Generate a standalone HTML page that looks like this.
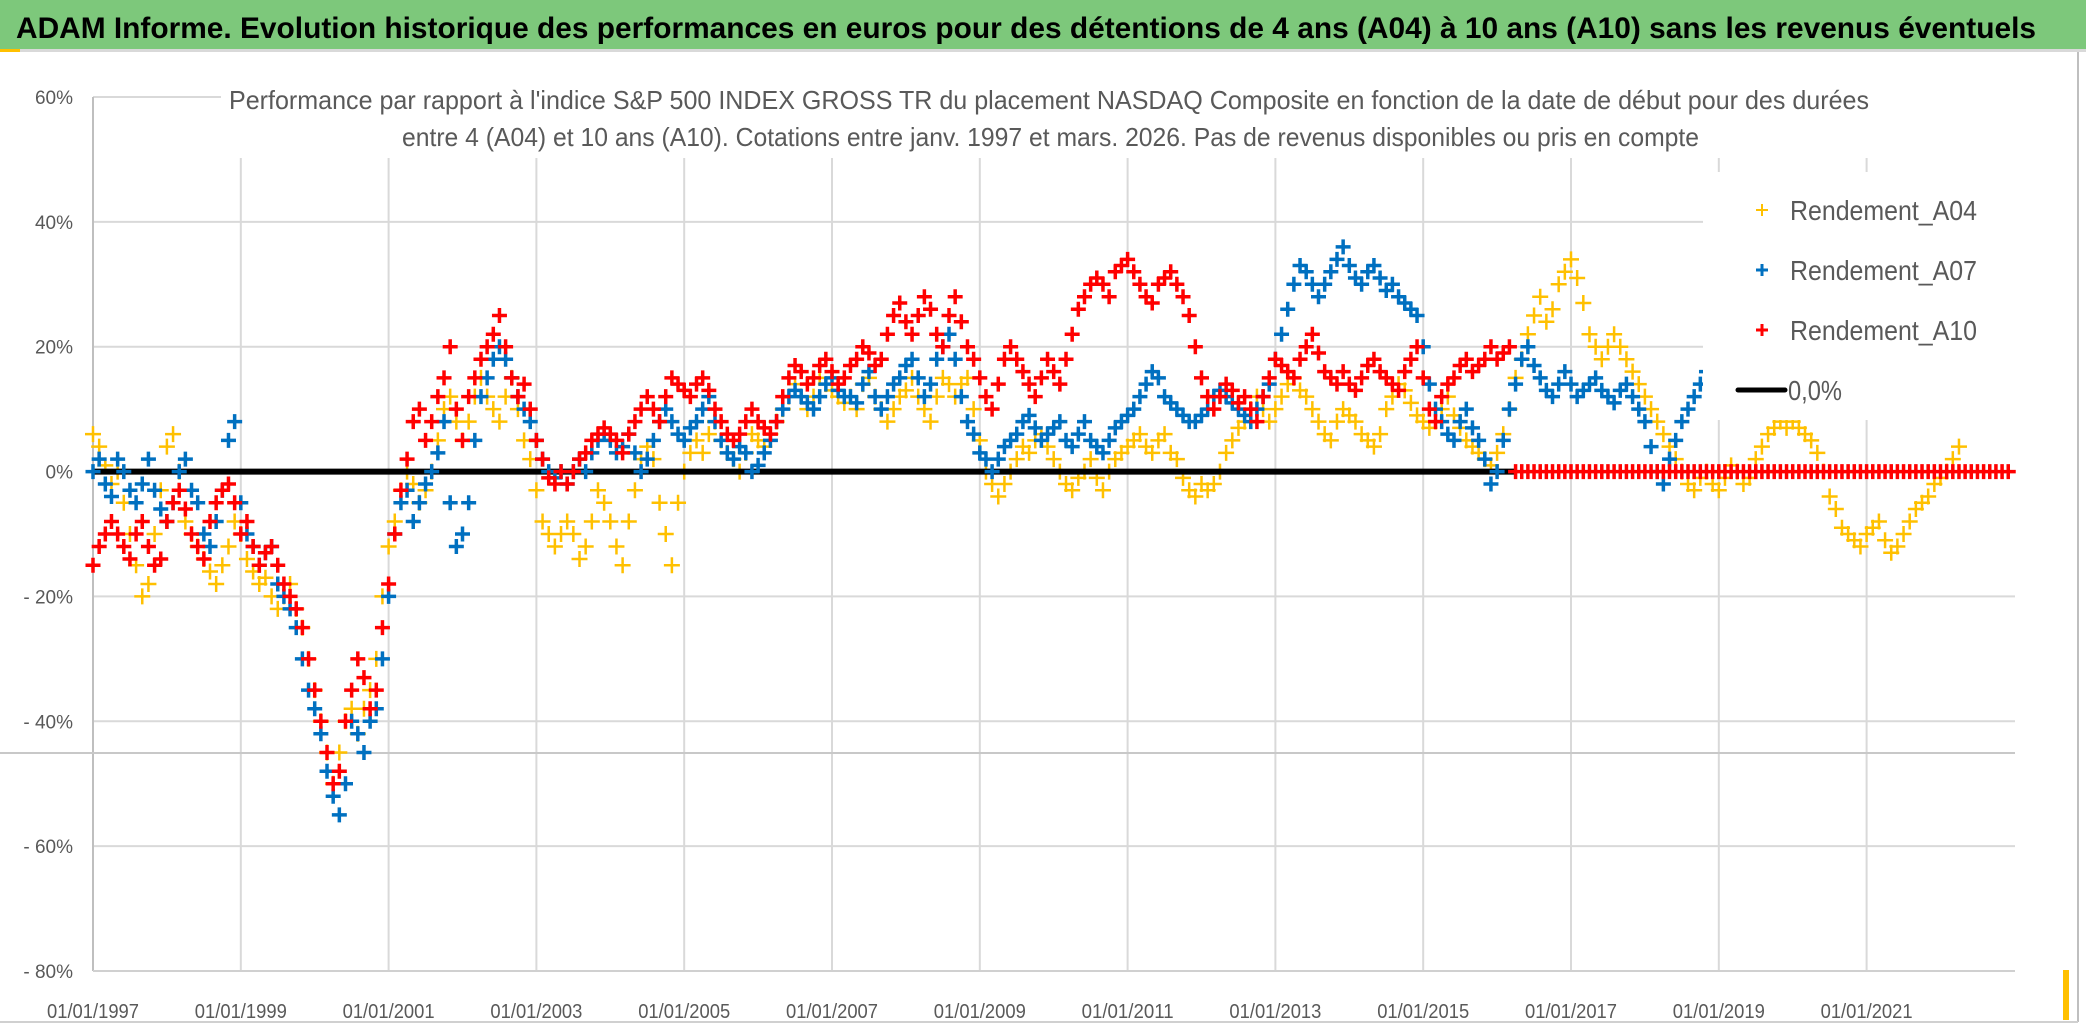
<!DOCTYPE html>
<html><head><meta charset="utf-8">
<style>
html,body{margin:0;padding:0;background:#fff;}
svg{display:block;}
text{font-family:"Liberation Sans",sans-serif;}
</style></head>
<body>
<svg id="chart" width="2086" height="1031" viewBox="0 0 2086 1031" xmlns="http://www.w3.org/2000/svg">
  <rect x="0" y="0" width="2086" height="1031" fill="#fff"/>
  <rect x="0" y="0" width="2086" height="49" fill="#7DC87B"/>
  <rect x="0" y="49" width="2086" height="3" fill="#d9d9d9"/>
  <rect x="0" y="49" width="20" height="3" fill="#FFC000"/>
  <text x="16" y="38" font-size="30" font-weight="bold" fill="#000" textLength="2020" lengthAdjust="spacingAndGlyphs">ADAM Informe. Evolution historique des performances en euros pour des détentions de 4 ans (A04) à 10 ans (A10) sans les revenus éventuels</text>
  <line x1="2078" y1="52" x2="2078" y2="1022" stroke="#bfbfbf" stroke-width="2"/>
  <line x1="0" y1="1022" x2="2078" y2="1022" stroke="#d0d0d0" stroke-width="2"/>
  <rect x="2063" y="970" width="6" height="50" fill="#FFC000"/>
  <g id="grid"></g>
  <g id="marks"></g>
  <g id="axes"></g>
  <text x="229" y="109" font-size="26" fill="#595959" textLength="1640" lengthAdjust="spacingAndGlyphs">Performance par rapport à l'indice S&amp;P 500 INDEX GROSS TR  du placement NASDAQ Composite en fonction de la date de début pour des durées</text>
  <text x="402" y="146" font-size="26" fill="#595959" textLength="1297" lengthAdjust="spacingAndGlyphs">entre 4 (A04) et 10 ans (A10). Cotations entre janv. 1997 et mars. 2026. Pas de revenus disponibles ou pris en compte</text>
  <g>
    <rect x="1703" y="172" width="312" height="248" fill="#fff"/>
    <g>
      <path d="M1756 210h12M1762 204v12" stroke="#FFC000" stroke-width="2"/>
      <text x="1790" y="220" font-size="28" fill="#595959" textLength="187" lengthAdjust="spacingAndGlyphs">Rendement_A04</text>
    </g>
    <g>
      <path d="M1756 270h12M1762 264v12" stroke="#0070C0" stroke-width="3"/>
      <text x="1790" y="280" font-size="28" fill="#595959" textLength="187" lengthAdjust="spacingAndGlyphs">Rendement_A07</text>
    </g>
    <g>
      <path d="M1756 330h12M1762 324v12" stroke="#FF0000" stroke-width="3"/>
      <text x="1790" y="340" font-size="28" fill="#595959" textLength="187" lengthAdjust="spacingAndGlyphs">Rendement_A10</text>
    </g>
    <g>
      <line x1="1738" y1="390" x2="1785" y2="390" stroke="#000" stroke-width="5" stroke-linecap="round"/>
      <text x="1788" y="400" font-size="28" fill="#595959" textLength="54" lengthAdjust="spacingAndGlyphs">0,0%</text>
    </g>
  </g>
</svg>
<script>
// ---- data (monthly values in %, starting Jan 1997) ----
const startYear = 1997;
const yTicks = [60, 40, 20, 0, -20, -40, -60, -80];
const yTickLabels = ["60%", "40%", "20%", "0%", "- 20%", "- 40%", "- 60%", "- 80%"];
const xTickYears = [1997, 1999, 2001, 2003, 2005, 2007, 2009, 2011, 2013, 2015, 2017, 2019, 2021];
const xTickLabels = ["01/01/1997","01/01/1999","01/01/2001","01/01/2003","01/01/2005","01/01/2007","01/01/2009","01/01/2011","01/01/2013","01/01/2015","01/01/2017","01/01/2019","01/01/2021"];
const rendementA04 = [
 6,4,1,-2,0,-5,-10,-15,-20,-18,-10,-3,
 4,6,0,-8,-10,-12,-14,-16,-18,-15,-12,-8,
 -10,-14,-16,-18,-17,-20,-22,-20,-18,-22,-25,-30,
 -35,-40,-45,-50,-45,-40,-38,-42,-38,-35,-30,-20,
 -12,-8,-3,0,-2,-5,-3,0,5,10,12,8,
 5,8,12,15,12,10,8,12,15,10,5,2,
 -3,-8,-10,-12,-10,-8,-10,-14,-12,-8,-3,-5,
 -8,-12,-15,-8,-3,2,4,2,-5,-10,-15,-5,
 0,3,5,3,6,8,5,3,2,0,3,6,
 5,4,6,8,10,12,14,12,10,12,15,14,
 13,12,11,12,10,14,15,12,10,8,10,12,
 13,15,12,10,8,12,15,14,12,14,15,10,
 5,0,-2,-4,-2,0,2,4,3,5,6,4,
 2,0,-2,-3,-1,0,2,-1,-3,0,2,3,
 4,5,6,4,3,5,6,3,2,-1,-3,-4,
 -2,-3,-2,0,3,5,7,8,10,12,10,8,
 10,12,14,15,13,12,10,8,6,5,8,10,
 9,8,6,5,4,6,10,12,14,13,11,9,
 8,7,8,10,12,9,7,5,4,3,2,1,
 3,6,10,15,18,22,25,28,24,26,30,32,
 34,31,27,22,20,18,20,22,20,18,16,14,
 12,10,8,6,4,2,0,-2,-3,-1,0,-2,
 -3,-1,1,0,-2,-1,2,4,6,7,8,7,
 8,7,6,5,3,0,-4,-6,-9,-10,-11,-12,
 -10,-9,-8,-11,-13,-12,-10,-8,-6,-5,-4,-2,
 -1,0,2,4
];
const rendementA07 = [
 0,2,-2,-4,2,0,-3,-5,-2,2,-3,-6,
 -8,-5,0,2,-3,-5,-10,-12,-8,-3,5,8,
 -5,-10,-12,-15,-13,-12,-18,-20,-22,-25,-30,-35,
 -38,-42,-48,-52,-55,-50,-40,-42,-45,-40,-38,-30,
 -20,-10,-5,-3,-8,-5,-2,0,3,8,-5,-12,
 -10,-5,5,12,15,18,20,18,15,12,10,8,
 5,2,0,-1,0,-2,0,2,0,3,5,6,
 5,3,4,6,3,0,2,5,8,10,8,6,
 5,7,8,10,12,8,5,3,2,4,3,0,
 1,3,5,8,10,12,13,12,11,10,12,14,
 15,13,12,12,11,14,16,12,10,12,14,15,
 17,18,15,12,14,18,20,22,18,12,8,6,
 3,2,0,2,4,5,6,8,9,7,5,6,
 7,8,5,4,6,8,5,4,3,5,7,8,
 9,10,12,14,16,15,12,11,10,9,8,8,
 9,10,12,13,12,11,10,9,8,10,12,14,
 18,22,26,30,33,32,30,28,30,32,34,36,
 33,31,30,32,33,31,29,30,28,27,26,25,
 20,14,10,8,6,5,8,10,7,5,2,-2,
 0,5,10,14,18,20,17,15,13,12,14,16,
 14,12,13,14,15,13,12,11,13,14,12,10,
 8,4,0,-2,2,5,8,10,12,14,16,18,
 18,17,16
];
const rendementA10 = [
 -15,-12,-10,-8,-10,-12,-14,-10,-8,-12,-15,-14,
 -8,-5,-3,-6,-10,-12,-14,-8,-5,-3,-2,-5,
 -10,-8,-12,-15,-13,-12,-15,-18,-20,-22,-25,-30,
 -35,-40,-45,-50,-48,-40,-35,-30,-33,-38,-35,-25,
 -18,-10,-3,2,8,10,5,8,12,15,20,10,
 5,12,15,18,20,22,25,20,15,12,14,10,
 5,2,-1,-2,0,-2,0,2,3,5,6,7,
 6,5,3,6,8,10,12,10,8,12,15,14,
 13,12,14,15,13,10,8,6,5,6,8,10,
 8,7,6,8,12,15,17,16,14,15,17,18,
 16,14,15,17,18,20,19,17,18,22,25,27,
 24,22,25,28,26,22,20,25,28,24,20,18,
 15,12,10,14,18,20,18,16,14,12,15,18,
 16,14,18,22,26,28,30,31,30,28,32,33,
 34,32,30,28,27,30,31,32,30,28,25,20,
 15,12,10,12,14,13,11,12,10,8,12,15,
 18,17,16,15,18,20,22,19,16,15,14,16,
 14,13,15,17,18,16,15,14,13,16,18,20,
 15,10,8,12,14,15,17,18,16,17,18,20,
 18,19,20,0,0,0,0,0,0,0,0,0,
 0,0,0,0,0,0,0,0,0,0,0,0,
 0,0,0,0,0,0,0,0,0,0,0,0,
 0,0,0,0,0,0,0,0,0,0,0,0,
 0,0,0,0,0,0,0,0,0,0,0,0,
 0,0,0,0,0,0,0,0,0,0,0,0,
 0,0,0,0,0,0,0,0,0,0,0,0
];
const zeroLineEnd = 2016.25;

// ---- layout ----
const NS = "http://www.w3.org/2000/svg";
const plotL = 93, plotR = 2015, yTop = 97, yBot = 971;
const pxPerYear = 73.9;
function xScale(year){ return plotL + (year - startYear) * pxPerYear; }
function yScale(v){ return yTop + (60 - v) * (yBot - yTop) / 140; }
function mk(tag, attrs, parent){
  const e = document.createElementNS(NS, tag);
  for (const k in attrs) e.setAttribute(k, attrs[k]);
  parent.appendChild(e);
  return e;
}
const grid = document.getElementById('grid');
const axes = document.getElementById('axes');
const marks = document.getElementById('marks');

yTicks.forEach((t, i) => {
  const y = yScale(t);
  const x2 = (t === 60) ? 221 : plotR;
  const g = mk('line', {x1:plotL, y1:y, x2:x2, y2:y, stroke:'#d9d9d9', 'stroke-width':2}, grid);
  
  
  const lab = mk('text', {x:73, y:y+7, 'font-size':19, fill:'#595959', 'text-anchor':'end'}, axes);
  lab.textContent = yTickLabels[i];
  
  
});
xTickYears.forEach((yr, i) => {
  const x = xScale(yr);
  const g = mk('line', {x1:x, y1:(yr === startYear ? yTop : 158), x2:x, y2:yBot, stroke:(yr === startYear ? '#bfbfbf' : '#d9d9d9'), 'stroke-width':2}, grid);
  
  
  const lab = mk('text', {x:x, y:1018, 'font-size':20, fill:'#595959', 'text-anchor':'middle', textLength:92, lengthAdjust:'spacingAndGlyphs'}, axes);
  lab.textContent = xTickLabels[i];
  
  
});
const extra = mk('line', {x1:0, y1:753, x2:plotR, y2:753, stroke:'#c8c8c8', 'stroke-width':2}, grid);



function drawSeries(values, color, sw, size, name){
  const g = mk('g', {stroke:color, 'stroke-width':sw, fill:'none'}, marks);
  
  
  let d = '';
  values.forEach((v, i) => {
    const x = xScale(startYear + i / 12);
    const y = yScale(v);
    d += 'M' + (x - size) + ' ' + y + 'h' + (2 * size) + 'M' + x + ' ' + (y - size) + 'v' + (2 * size);
  });
  mk('path', {d:d}, g);
}
drawSeries(rendementA04, '#FFC000', 2.5, 8, 'series-a04');
const zl = mk('line', {x1:xScale(startYear), y1:yScale(0), x2:xScale(zeroLineEnd), y2:yScale(0), stroke:'#000', 'stroke-width':6}, marks);


drawSeries(rendementA07, '#0070C0', 3.5, 7.5, 'series-a07');
drawSeries(rendementA10, '#FF0000', 3.5, 7.5, 'series-a10');
const ax = mk('line', {x1:plotL, y1:yBot, x2:plotR, y2:yBot, stroke:'#d0d0d0', 'stroke-width':2}, axes);


</script>
</body></html>
